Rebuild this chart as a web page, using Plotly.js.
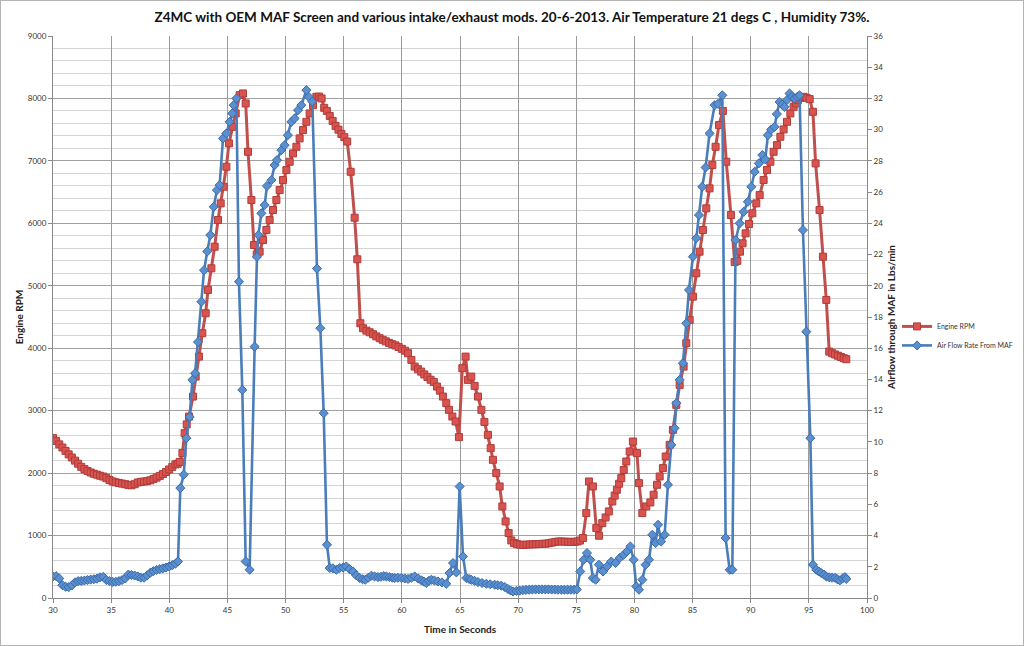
<!DOCTYPE html>
<html>
<head>
<meta charset="utf-8">
<script src="https://cdn.plot.ly/plotly-3.0.1.min.js"></script>
<style>
html,body{margin:0;padding:0;background:#fff;}
#wrap{position:relative;width:1024px;height:646px;}
#chart{position:absolute;left:0;top:0;width:1024px;height:646px;}
#frame{position:absolute;left:0;top:0;width:1024px;height:646px;box-sizing:border-box;border:1px solid #b4b4b4;pointer-events:none;}
</style>
</head>
<body>
<div id="wrap"><div id="chart"></div><div id="frame"></div></div>
<script>
// Engine RPM samples (time in seconds, rpm)
const timeRpm = [
30.00,30.27,30.54,30.81,31.08,31.35,31.62,31.89,32.16,32.43,32.70,32.97,33.24,33.51,33.78,34.05,34.32,34.59,34.86,35.13,
35.40,35.67,35.94,36.21,36.48,36.75,37.02,37.29,37.56,37.83,38.10,38.37,38.64,38.91,39.18,39.45,39.72,39.99,40.26,40.53,
40.72,40.90,41.13,41.32,41.50,41.70,42.04,42.27,42.55,42.84,43.13,43.33,43.62,43.90,44.19,44.42,44.68,44.91,45.13,45.42,
45.71,46.05,46.34,46.57,46.77,47.06,47.28,47.52,47.77,48.06,48.35,48.63,48.92,49.21,49.49,49.78,50.07,50.35,50.64,50.93,
51.21,51.50,51.79,52.07,52.36,52.65,52.88,53.10,53.32,53.55,53.80,54.05,54.30,54.55,54.80,55.05,55.30,55.60,55.94,56.17,
56.43,56.66,56.95,57.23,57.52,57.80,58.09,58.35,58.62,58.90,59.17,59.45,59.72,60.00,60.27,60.53,60.82,61.10,61.39,61.66,
61.93,62.20,62.47,62.75,63.02,63.27,63.53,63.82,64.05,64.34,64.62,64.91,65.20,65.48,65.68,65.97,66.26,66.55,66.84,67.10,
67.40,67.64,67.83,68.12,68.41,68.64,68.92,69.18,69.41,69.65,69.90,70.17,70.45,70.72,71.00,71.27,71.55,71.82,72.10,72.37,
72.65,72.92,73.20,73.47,73.75,74.02,74.30,74.57,74.85,75.10,75.32,75.57,75.86,76.09,76.43,76.72,76.95,77.24,77.52,77.80,
78.10,78.30,78.49,78.68,78.87,79.08,79.30,79.59,79.87,80.22,80.39,80.68,81.02,81.37,81.65,81.94,82.17,82.45,82.69,83.03,
83.31,83.60,83.89,84.23,84.46,84.75,85.03,85.32,85.60,85.89,86.18,86.46,86.70,86.98,87.27,87.61,87.90,88.30,88.62,88.85,
89.08,89.30,89.56,89.85,90.14,90.48,90.77,91.11,91.40,91.69,91.97,92.26,92.55,92.83,93.12,93.41,93.69,93.88,94.06,94.30,
94.55,94.80,95.07,95.35,95.58,95.92,96.21,96.50,96.75,97.00,97.25,97.50,97.75,98.00,98.22
];
const rpm = [
2560,2515,2460,2410,2355,2300,2250,2200,2150,2100,2065,2035,2010,1990,1975,1958,1945,1920,1890,1866,
1852,1842,1832,1822,1812,1805,1822,1850,1860,1866,1872,1885,1905,1928,1955,1985,2018,2058,2100,2140,
2150,2180,2320,2640,2780,2905,3226,3546,3866,4240,4560,4933,5280,5626,6053,6320,6586,6906,7280,7546,
7760,8053,8080,7920,7146,6373,5653,5500,5546,5733,5893,6053,6213,6373,6533,6693,6853,6986,7120,7226,
7360,7493,7626,7760,7893,8026,8030,8000,7850,7800,7720,7640,7560,7500,7430,7380,7310,6826,6090,5424,
4400,4320,4282,4256,4224,4190,4160,4135,4110,4085,4065,4045,4020,3990,3960,3920,3813,3706,3664,3625,
3580,3540,3495,3460,3386,3320,3226,3120,3013,2906,2826,2576,3680,3866,3493,3546,3397,3226,3013,2820,
2613,2400,2213,2000,1786,1466,1226,1040,922,880,862,853,850,855,858,860,862,865,868,870,
878,888,898,905,905,902,900,898,900,905,920,960,1360,1866,1786,1120,997,1200,1290,1386,
1546,1640,1733,1830,1920,2050,2186,2346,2506,2320,1840,1360,1466,1530,1653,1813,1946,2080,2266,2453,
2693,3093,3413,3706,4080,4453,4826,5200,5546,5893,6240,6560,6933,7226,7573,7800,6986,6133,5380,5400,
5546,5680,5840,5989,6160,6320,6453,6693,6853,6986,7146,7253,7386,7504,7626,7760,7866,7920,7973,8010,
8026,8010,7990,7786,6960,6213,5466,4773,3946,3920,3900,3880,3860,3840,3824
];

// Air flow through MAF samples (time in seconds, lbs/min)
const timeMaf = [
30.00,30.27,30.54,30.81,31.08,31.35,31.62,31.89,32.16,32.43,32.70,32.97,33.24,33.51,33.78,34.05,34.32,34.59,34.86,35.13,
35.40,35.67,35.94,36.21,36.48,36.75,37.02,37.29,37.56,37.83,38.10,38.37,38.64,38.91,39.18,39.45,39.72,39.99,40.26,40.53,
40.75,40.95,41.24,41.47,41.75,41.99,42.22,42.47,42.76,42.99,43.27,43.53,43.82,44.10,44.33,44.62,44.91,45.19,45.42,45.54,
45.77,45.99,46.28,46.57,46.91,47.34,47.54,47.66,47.92,48.20,48.40,48.78,49.06,49.26,49.64,49.92,50.20,50.50,50.78,51.07,
51.36,51.79,52.00,52.30,52.70,52.99,53.28,53.56,53.80,54.07,54.37,54.65,54.95,55.22,55.50,55.80,56.08,56.37,56.62,56.85,
57.12,57.38,57.65,57.95,58.20,58.45,58.67,58.93,59.18,59.38,59.65,59.96,60.25,60.53,60.82,61.10,61.40,61.68,61.90,62.10,
62.33,62.54,62.80,63.10,63.45,63.82,64.10,64.40,64.69,64.97,65.26,65.54,65.78,65.97,66.25,66.55,66.90,67.27,67.60,67.98,
68.25,68.55,68.85,69.12,69.35,69.56,69.85,70.13,70.40,70.68,70.95,71.22,71.50,71.78,72.05,72.33,72.60,72.88,73.15,73.42,
73.70,73.97,74.25,74.52,74.80,75.05,75.34,75.63,75.92,76.20,76.43,76.66,76.95,77.30,77.64,78.01,78.38,78.73,79.07,79.36,
79.65,79.93,80.16,80.39,80.68,80.96,81.25,81.54,81.82,82.03,82.30,82.60,82.88,83.17,83.46,83.60,83.89,84.17,84.46,84.69,
85.03,85.32,85.55,85.83,86.12,86.46,86.90,87.18,87.56,87.84,88.19,88.42,88.70,89.05,89.39,89.76,90.05,90.34,90.70,91.00,
91.25,91.48,91.75,92.05,92.25,92.48,92.70,92.91,93.12,93.34,93.55,93.77,94.00,94.20,94.49,94.78,95.13,95.35,95.64,95.85,
96.07,96.30,96.50,96.75,97.00,97.25,97.45,97.67,97.90,98.10,98.22
];
const maf = [
1.38,1.40,1.25,0.82,0.72,0.70,0.80,1.00,1.08,1.10,1.12,1.15,1.18,1.20,1.24,1.32,1.35,1.15,1.08,1.03,
1.04,1.08,1.15,1.25,1.50,1.47,1.44,1.38,1.30,1.30,1.45,1.62,1.72,1.80,1.85,1.90,1.95,2.02,2.10,2.20,
2.34,7.04,7.90,10.24,11.60,13.97,14.40,16.40,18.98,21.00,22.20,23.25,25.06,26.13,26.45,29.44,29.76,30.50,31.04,31.57,
32.00,20.26,13.33,2.34,1.81,16.10,21.86,23.25,24.64,25.17,26.39,26.77,27.73,28.05,28.69,29.00,29.65,30.50,30.72,31.25,
31.57,32.53,32.10,31.80,21.10,17.28,11.84,3.41,1.92,1.90,1.81,1.92,1.95,2.02,1.85,1.70,1.45,1.28,1.20,1.17,
1.30,1.43,1.38,1.34,1.36,1.40,1.38,1.34,1.30,1.28,1.30,1.28,1.25,1.22,1.30,1.38,1.25,1.13,1.05,0.96,
1.10,1.17,1.12,1.06,1.00,0.91,1.60,2.24,1.64,7.14,2.66,1.28,1.22,1.17,1.10,1.02,0.96,0.91,0.88,0.85,
0.82,0.79,0.70,0.58,0.48,0.42,0.45,0.47,0.50,0.52,0.53,0.54,0.55,0.55,0.55,0.55,0.55,0.54,0.54,0.53,
0.53,0.53,0.53,0.53,0.53,0.55,1.70,2.45,2.88,2.45,1.28,1.17,2.13,1.70,2.02,2.34,2.24,2.56,2.77,2.98,
3.30,2.45,0.74,0.53,1.17,2.13,2.45,4.05,3.52,4.69,3.62,4.05,7.25,9.81,10.88,12.48,13.97,15.04,17.60,19.73,
21.86,23.04,24.53,26.34,27.58,29.76,31.57,31.65,32.20,3.84,1.81,1.81,22.93,24.00,24.74,25.38,26.34,27.30,27.84,28.37,
28.10,29.65,30.00,30.18,31.00,31.78,31.60,31.46,31.90,32.32,32.10,32.00,32.10,32.20,23.57,17.06,10.24,2.13,1.81,1.70,
1.60,1.50,1.38,1.32,1.30,1.30,1.20,1.13,1.25,1.34,1.22
];

const titleText = 'Z4MC with OEM MAF Screen and various intake/exhaust mods. 20-6-2013. Air Temperature 21 degs C , Humidity 73%.';
const xTitle = 'Time in Seconds';
const yTitle = 'Engine RPM';
const y2Title = 'Airflow through MAF in Lbs/min';
const rpmName = 'Engine RPM';
const mafName = 'Air Flow Rate From MAF';

const FONT = 'Lato, "Open Sans", "DejaVu Sans", sans-serif';

const traces = [
  {
    x: timeRpm, y: rpm, name: rpmName, type: 'scatter', mode: 'lines+markers',
    line: {color: '#C0504D', width: 3},
    marker: {symbol: 'square', size: 7, color: '#D9534F', line: {color: '#B03C39', width: 1}},
    xaxis: 'x', yaxis: 'y'
  },
  {
    x: timeMaf, y: maf, name: mafName, type: 'scatter', mode: 'lines+markers',
    line: {color: '#4A7EBB', width: 2.6},
    marker: {symbol: 'diamond', size: 7, color: '#5A8FD2', line: {color: '#3B6BA5', width: 1}},
    xaxis: 'x', yaxis: 'y2'
  }
];

const tickFont = {family: FONT, size: 8, color: '#333'};

const layout = {
  width: 1024, height: 646,
  margin: {l: 53, r: 157, t: 36, b: 48, pad: 0, autoexpand: false},
  paper_bgcolor: '#fff', plot_bgcolor: '#fff',
  font: {family: FONT, color: '#222'},
  title: {text: '<b>' + titleText + '</b>', font: {family: FONT, size: 13.5, color: '#111'},
          x: 0.5, xref: 'container', xanchor: 'center', y: 0.973, yref: 'container', yanchor: 'middle'},
  showlegend: true,
  legend: {xref: 'container', yref: 'container', x: 0.876, y: 0.48, xanchor: 'left', yanchor: 'middle',
           bgcolor: 'rgba(0,0,0,0)', font: {family: FONT, size: 7, color: '#333'}, tracegroupgap: 4, itemwidth: 30},
  xaxis: {
    range: [30, 100], dtick: 5, tick0: 30, tickfont: tickFont,
    showgrid: true, gridcolor: '#9a9a9a', gridwidth: 1,
    showline: true, linecolor: '#888', linewidth: 1, mirror: false,
    ticks: 'outside', ticklen: 4, tickcolor: '#888', zeroline: false,
    title: {text: '<b>' + xTitle + '</b>', font: {family: FONT, size: 10, color: '#222'}, standoff: 12}
  },
  yaxis: {
    range: [0, 9000], dtick: 1000, tick0: 0, tickfont: tickFont,
    showgrid: true, gridcolor: '#a0a0a0', gridwidth: 1,
    minor: {dtick: 200, showgrid: true, gridcolor: '#d4d4d4', gridwidth: 1, ticks: ''},
    showline: true, linecolor: '#888', linewidth: 1,
    ticks: 'outside', ticklen: 4, tickcolor: '#888', zeroline: false,
    title: {text: '<b>' + yTitle + '</b>', font: {family: FONT, size: 10, color: '#222'}, standoff: 2}
  },
  yaxis2: {
    range: [0, 36], dtick: 2, tick0: 0, tickfont: tickFont,
    overlaying: 'y', side: 'right', showgrid: false,
    showline: true, linecolor: '#888', linewidth: 1,
    ticks: 'outside', ticklen: 4, tickcolor: '#888', zeroline: false,
    title: {text: '<b>' + y2Title + '</b>', font: {family: FONT, size: 10, color: '#222'}, standoff: 12}
  }
};

Plotly.newPlot('chart', traces, layout, {displayModeBar: false, staticPlot: true});
</script>
</body>
</html>
